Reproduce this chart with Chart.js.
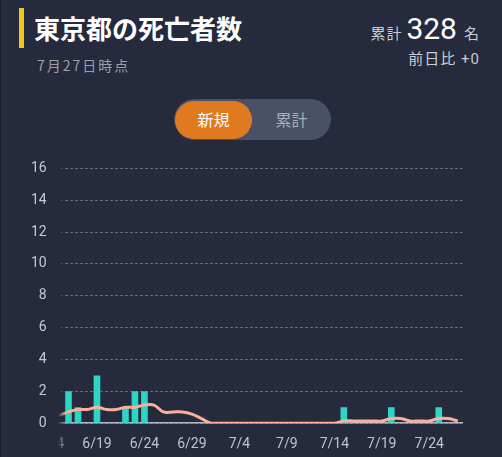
<!DOCTYPE html>
<html lang="ja">
<head>
<meta charset="utf-8">
<script src="https://cdn.jsdelivr.net/npm/chart.js@4/dist/chart.umd.min.js"></script>
<style>
  html, body { margin: 0; padding: 0; }
  body {
    width: 502px; height: 457px; overflow: hidden; position: relative;
    background: #252b3d; border-left: 1px solid #1b2030; box-sizing: border-box;
    font-family: "Roboto", "Noto Sans CJK JP", sans-serif;
  }
  .mark { position: absolute; left: 18px; top: 8px; width: 5px; height: 40px; background: #f2c81e; }
  .title { position: absolute; left: 33px; top: 15px; font-size: 26px; line-height: 26px; font-weight: 700; color: #fff; font-family: "Noto Sans CJK JP", sans-serif; }
  .date { position: absolute; left: 36px; top: 58px; font-size: 14px; line-height: 14px; letter-spacing: 2px; color: #9aa0ac; font-family: "Noto Sans CJK JP", sans-serif; }
  .total { position: absolute; right: 22px; top: 14px; line-height: 30px; color: #c8ccd4; white-space: nowrap; }
  .total .lbl { font-size: 15px; font-family: "Noto Sans CJK JP", sans-serif; letter-spacing: 1px; }
  .total .num { font-size: 30px; color: #fff; margin: 0 7px 0 4px; }
  .diff { position: absolute; right: 22px; top: 52px; font-size: 15px; line-height: 15px; color: #c8ccd4; font-family: "Roboto", "Noto Sans CJK JP", sans-serif; letter-spacing: 1px; }
  .toggle { position: absolute; left: 173px; top: 99px; width: 157px; height: 41px; border-radius: 21px; background: #4a5166; }
  .toggle span { position: absolute; top: 0; height: 41px; line-height: 41px; font-size: 16px; text-align: center; font-family: "Noto Sans CJK JP", sans-serif; }
  .toggle .on { left: 1px; top: 2px; width: 77px; height: 38px; line-height: 37px; border-radius: 19px; background: #e07a1f; color: #fff; }
  .toggle .off { left: 78px; width: 79px; color: #a8adb8; }
  .chart { position: absolute; left: 0; top: 150px; width: 502px; height: 315px; }
  .fade { position: absolute; left: 0; top: 150px; width: 66px; height: 307px;
    background: linear-gradient(to right, #252b3d 57px, rgba(37,43,61,0) 65px); }
</style>
</head>
<body>
<div class="mark"></div>
<div class="title">東京都の死亡者数</div>
<div class="date">7月27日時点</div>
<div class="total"><span class="lbl">累計</span><span class="num">328</span><span class="lbl">名</span></div>
<div class="diff">前日比 +0</div>
<div class="toggle"><span class="on">新規</span><span class="off">累計</span></div>

<div class="chart"><canvas id="deathsChart"></canvas></div>
<div class="fade"></div>
<div class="chart"><canvas id="axisChart"></canvas></div>

<script>
// ---------------------------Data------------------------------------------------
const dates = [
  "6/14", "6/15", "6/16", "6/17", "6/18", "6/19", "6/20", "6/21", "6/22", "6/23",
  "6/24", "6/25", "6/26", "6/27", "6/28", "6/29", "6/30", "7/1", "7/2", "7/3",
  "7/4", "7/5", "7/6", "7/7", "7/8", "7/9", "7/10", "7/11", "7/12", "7/13",
  "7/14", "7/15", "7/16", "7/17", "7/18", "7/19", "7/20", "7/21", "7/22", "7/23",
  "7/24", "7/25", "7/26", "7/27",
];

// daily deaths
const dailyDeaths = [
  0, 0, 2, 1, 0, 3, 0, 0, 1, 2,
  2, 0, 0, 0, 0, 0, 0, 0, 0, 0,
  0, 0, 0, 0, 0, 0, 0, 0, 0, 0,
  0, 1, 0, 0, 0, 0, 1, 0, 0, 0,
  0, 1, 0, 0,
];

// 7-day average line
const weeklyAverage = [
  0.43, 0.5, 0.71, 0.86, 0.86, 1.0, 0.86, 0.86, 1.0, 1.0,
  1.14, 1.14, 0.71, 0.71, 0.71, 0.57, 0.29, 0, 0, 0,
  0, 0, 0, 0, 0, 0, 0, 0, 0, 0,
  0, 0.14, 0.14, 0.14, 0.14, 0.14, 0.29, 0.29, 0.14, 0.14,
  0.14, 0.29, 0.29, 0.14,
];

const yTicks = [0, 2, 4, 6, 8, 10, 12, 14, 16];
// ----------------------------------------------------------------------------------------------

const tickFont = { family: "Roboto", size: 14 };
const labelEvery = 5;

const xAxis = (color) => ({
  offset: true,
  grid: { display: false, drawTicks: false },
  border: { display: color !== "transparent", color: "#b4b8c2", width: 1.5 },
  ticks: {
    autoSkip: false,
    maxRotation: 0,
    minRotation: 0,
    padding: 12.5,
    color: color,
    font: tickFont,
    callback: function (value, index) {
      return index % labelEvery === 0 ? this.getLabelForValue(value) : "";
    },
  },
});

const yRange = { min: yTicks[0], max: yTicks[yTicks.length - 1] };

// main chart: bars + average line
const deathsCtx = document.getElementById("deathsChart").getContext("2d");
new Chart(deathsCtx, {
  type: "bar",
  data: {
    labels: dates,
    datasets: [
      {
        type: "line",
        label: "7日間平均",
        data: weeklyAverage,
        borderColor: "#fbb09e",
        borderWidth: 3,
        pointRadius: 0,
        tension: 0.4,
        fill: false,
        order: 0,
      },
      {
        label: "死亡者数",
        data: dailyDeaths,
        backgroundColor: "#2dd6c4",
        barPercentage: 0.7,
        categoryPercentage: 1,
        order: 1,
      },
    ],
  },
  options: {
    responsive: true,
    maintainAspectRatio: false,
    animation: false,
    layout: { padding: { left: 43.75, right: 40.5, top: 18.3, bottom: 0 } },
    plugins: { legend: { display: false }, tooltip: { enabled: false } },
    scales: {
      x: xAxis("#bfc3cc"),
      y: {
        ...yRange,
        grid: { color: "#656b7c", lineWidth: 1, drawTicks: false },
        border: { display: false, dash: [3, 2] },
        ticks: { display: false, stepSize: 2 },
      },
    },
  },
});

// fixed y axis drawn above the fade
const axisCtx = document.getElementById("axisChart").getContext("2d");
new Chart(axisCtx, {
  type: "bar",
  data: { labels: dates, datasets: [] },
  options: {
    responsive: true,
    maintainAspectRatio: false,
    animation: false,
    layout: { padding: { left: 30, right: 40.5, top: 18.3, bottom: 0 } },
    plugins: { legend: { display: false }, tooltip: { enabled: false } },
    scales: {
      x: xAxis("transparent"),
      y: {
        ...yRange,
        grid: { display: false, drawTicks: false },
        border: { display: false },
        ticks: { stepSize: 2, padding: 0, color: "#c5c9d1", font: tickFont },
      },
    },
  },
});
</script>
</body>
</html>
